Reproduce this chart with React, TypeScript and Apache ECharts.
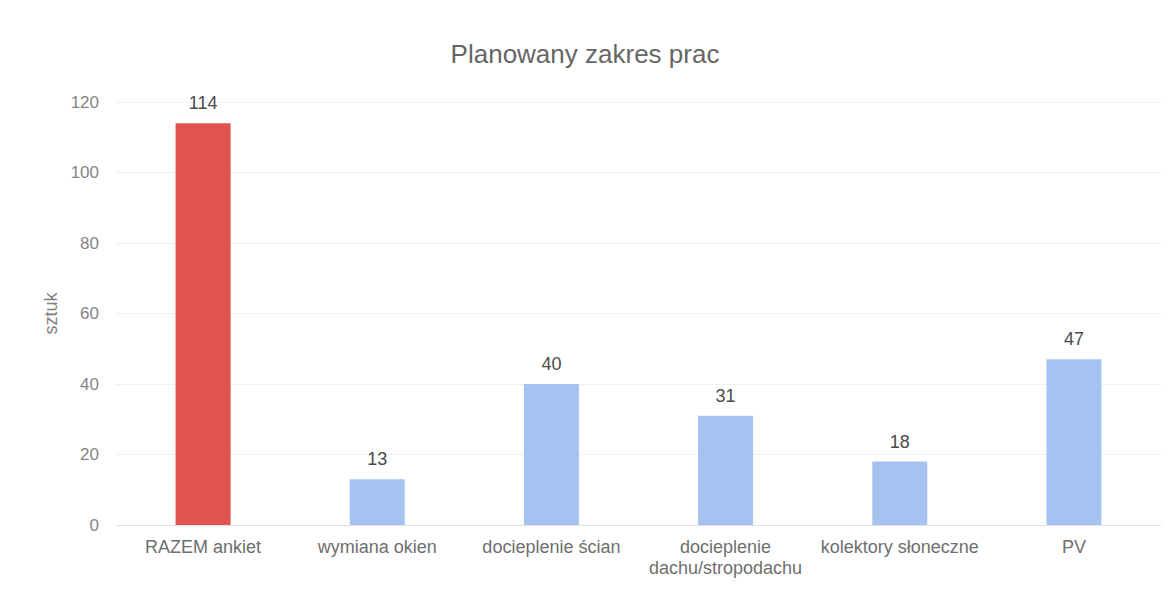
import React, { useEffect, useRef } from "react";
import * as echarts from "echarts";

const titleText = "Planowany zakres prac";
const yAxisName = "sztuk";
const categories = [
  "RAZEM ankiet",
  "wymiana okien",
  "docieplenie ścian",
  "docieplenie\ndachu/stropodachu",
  "kolektory słoneczne",
  "PV",
];
const values = [114, 13, 40, 31, 18, 47];
const barColors = ["#e0544f", "#a6c2f0", "#a6c2f0", "#a6c2f0", "#a6c2f0", "#a6c2f0"];
const yTicks = { min: 0, max: 120, interval: 20 };

export default function App() {
  const ref = useRef<HTMLDivElement>(null);
  useEffect(() => {
    document.body.style.margin = "0";
    if (!ref.current) return;
    const chart = echarts.init(ref.current, undefined, { renderer: "svg" });
    const font = "Liberation Sans, Arial, sans-serif";
    chart.setOption({
      animation: false,
      backgroundColor: "#ffffff",
      title: {
        text: titleText,
        left: "center",
        top: 36,
        textStyle: { fontFamily: font, fontSize: 26, fontWeight: "normal", color: "#666666" },
      },
      grid: { left: 116, right: 9, top: 102, bottom: 64 },
      xAxis: {
        type: "category",
        data: categories,
        axisLine: { show: true, lineStyle: { color: "#e0e0e0" } },
        axisTick: { show: false },
        axisLabel: {
          interval: 0,
          margin: 11,
          fontFamily: font,
          fontSize: 18,
          lineHeight: 21,
          color: "#6e6e6e",
        },
      },
      yAxis: {
        type: "value",
        min: yTicks.min,
        max: yTicks.max,
        interval: yTicks.interval,
        name: yAxisName,
        nameLocation: "middle",
        nameGap: 55,
        nameTextStyle: { fontFamily: font, fontSize: 18, color: "#808080" },
        axisLine: { show: false },
        axisTick: { show: false },
        splitLine: { show: true, lineStyle: { color: "#f0f0f0" } },
        axisLabel: { margin: 17, fontFamily: font, fontSize: 17, color: "#858585" },
      },
      series: [
        {
          type: "bar",
          barWidth: 55,
          data: values.map((v, i) => ({ value: v, itemStyle: { color: barColors[i] } })),
          label: {
            show: true,
            position: "top",
            distance: 11,
            fontFamily: font,
            fontSize: 18,
            color: "#4a4a4a",
          },
        },
      ],
    });
    return () => chart.dispose();
  }, []);
  return <div ref={ref} style={{ width: 1170, height: 589 }} />;
}
